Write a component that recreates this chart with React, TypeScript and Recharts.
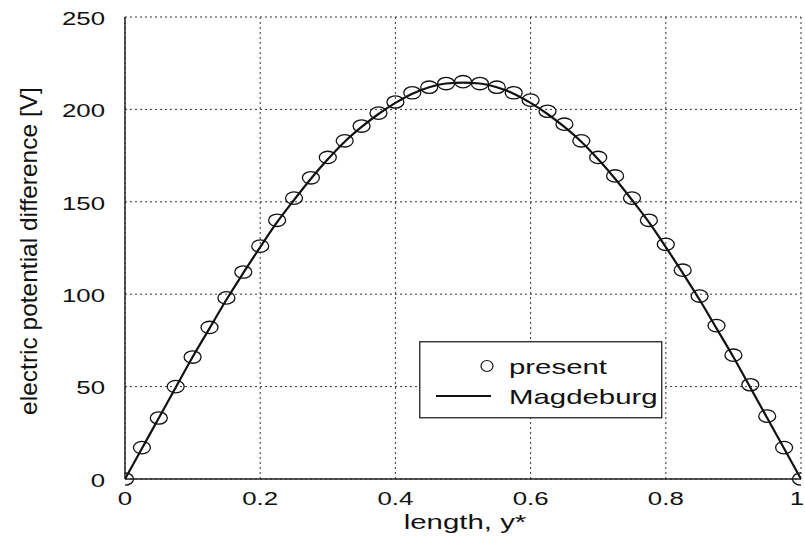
import React from 'react';
import {
  ComposedChart,
  Line,
  Scatter,
  XAxis,
  YAxis,
  CartesianGrid,
  Legend,
} from 'recharts';

const yPositions = [
  0, 0.025, 0.05, 0.075, 0.1, 0.125, 0.15, 0.175, 0.2, 0.225, 0.25, 0.275, 0.3, 0.325,
  0.35, 0.375, 0.4, 0.425, 0.45, 0.475, 0.5, 0.525, 0.55, 0.575, 0.6, 0.625, 0.65,
  0.675, 0.7, 0.725, 0.75, 0.775, 0.8, 0.825, 0.85, 0.875, 0.9, 0.925, 0.95, 0.975, 1,
];

const presentValues = [
  0, 17, 33, 50, 66, 82, 98, 112, 126, 140, 152, 163, 174, 183, 191, 198, 204, 209,
  212, 214, 215, 214, 212, 209, 205, 199, 192, 183, 174, 164, 152, 140, 127, 113, 99,
  83, 67, 51, 34, 17, 0,
];

const magdeburgValues = [
  0, 16.5, 33, 49.5, 66, 81.5, 97, 111.5, 125.5, 139, 151, 162.5, 173, 182.5, 190.5,
  197.5, 203.5, 208.5, 212, 214, 214.5, 214, 212, 208.5, 203.5, 197.5, 190.5, 182.5,
  173, 162.5, 151, 139, 125.5, 111.5, 97, 81.5, 66, 49.5, 33, 16.5, 0,
];

const xTicks = [0, 0.2, 0.4, 0.6, 0.8, 1];
const yTicks = [0, 50, 100, 150, 200, 250];

const data = yPositions.map((x, i) => ({
  x,
  present: presentValues[i],
  magdeburg: magdeburgValues[i],
}));

const FONT = '"Liberation Sans", Arial, Helvetica, sans-serif';
const INK = '#111';

const fmt = (v: number) => (v === 0 ? '0' : v === 1 ? '1' : String(v));

const YTick = (props: any) => {
  const { y, payload } = props;
  return (
    <text
      transform={`translate(105,${y + 1}) scale(1.36,1)`}
      textAnchor="end"
      dominantBaseline="central"
      fontSize={19}
      fontFamily={FONT}
      fill={INK}
    >
      {payload.value}
    </text>
  );
};

const XTick = (props: any) => {
  const { x, payload } = props;
  const isLast = payload.value === 1;
  return (
    <text
      transform={`translate(${isLast ? x - 4 : x},498) scale(1.36,1)`}
      textAnchor="middle"
      dominantBaseline="central"
      fontSize={19}
      fontFamily={FONT}
      fill={INK}
    >
      {fmt(payload.value)}
    </text>
  );
};

const Ellipse = (props: any) => {
  const { cx, cy } = props;
  if (cx == null || cy == null) return null;
  return <ellipse cx={cx} cy={cy} rx={8.5} ry={6.2} fill="none" stroke={INK} strokeWidth={1.3} />;
};

const LegendBox = () => (
  <svg width={245} height={79} style={{ display: 'block' }}>
    <rect x={0.75} y={0.75} width={242} height={76} fill="#fff" stroke="#222" strokeWidth={1.3} />
    <ellipse cx={68} cy={25} rx={6} ry={5.5} fill="none" stroke={INK} strokeWidth={1.2} />
    <text
      transform="translate(90,33) scale(1.4,1)"
      fontSize={21}
      fontFamily={FONT}
      fill={INK}
    >
      present
    </text>
    <line x1={17} x2={72} y1={55} y2={55} stroke={INK} strokeWidth={2} />
    <text
      transform="translate(90,63) scale(1.4,1)"
      fontSize={21}
      fontFamily={FONT}
      fill={INK}
    >
      Magdeburg
    </text>
  </svg>
);

export default function App() {
  return (
    <div style={{ position: 'absolute', left: 0, top: 0, background: '#fff' }}>
      <ComposedChart
        width={805}
        height={542}
        data={data}
        margin={{ top: 17, right: 4, bottom: 0, left: 0 }}
      >
        <CartesianGrid
          stroke="#333"
          strokeWidth={1}
          strokeDasharray="2 3"
          horizontal
          vertical
        />
        <XAxis
          dataKey="x"
          type="number"
          domain={[0, 1]}
          ticks={xTicks}
          tick={<XTick />}
          tickLine={false}
          tickSize={0}
          axisLine={{ stroke: '#222', strokeWidth: 1.5 }}
          height={63}
          interval={0}
          allowDataOverflow
          label={{
            content: () => (
              <text
                transform="translate(465,529) scale(1.4,1)"
                textAnchor="middle"
                fontSize={21}
                fontFamily={FONT}
                fill={INK}
              >
                length, y*
              </text>
            ),
          }}
        />
        <XAxis
          xAxisId="top"
          orientation="top"
          type="number"
          domain={[0, 1]}
          tick={false}
          tickLine={false}
          height={0}
          axisLine={{ stroke: '#333', strokeWidth: 1.2 }}
        />
        <YAxis
          type="number"
          domain={[0, 250]}
          ticks={yTicks}
          tick={<YTick />}
          tickLine={false}
          tickSize={0}
          width={125}
          interval={0}
          axisLine={{ stroke: '#222', strokeWidth: 1.5 }}
          label={{
            content: () => (
              <text
                transform="translate(37,251) rotate(-90)"
                textAnchor="middle"
                fontSize={24.5}
                fontFamily={FONT}
                fill={INK}
              >
                electric potential difference [V]
              </text>
            ),
          }}
        />
        <YAxis
          yAxisId="right"
          orientation="right"
          type="number"
          domain={[0, 250]}
          tick={false}
          tickLine={false}
          width={0}
          axisLine={{ stroke: '#333', strokeWidth: 1.2 }}
        />
        <Line
          dataKey="magdeburg"
          type="monotone"
          stroke={INK}
          strokeWidth={2.2}
          dot={false}
          activeDot={false}
          isAnimationActive={false}
          name="Magdeburg"
        />
        <Scatter
          dataKey="present"
          shape={<Ellipse />}
          isAnimationActive={false}
          name="present"
        />
        <Legend
          layout="vertical"
          align="center"
          verticalAlign="middle"
          content={() => <LegendBox />}
          wrapperStyle={{ position: 'absolute', left: 419, top: 341, width: 245, height: 79 }}
        />
      </ComposedChart>
    </div>
  );
}
